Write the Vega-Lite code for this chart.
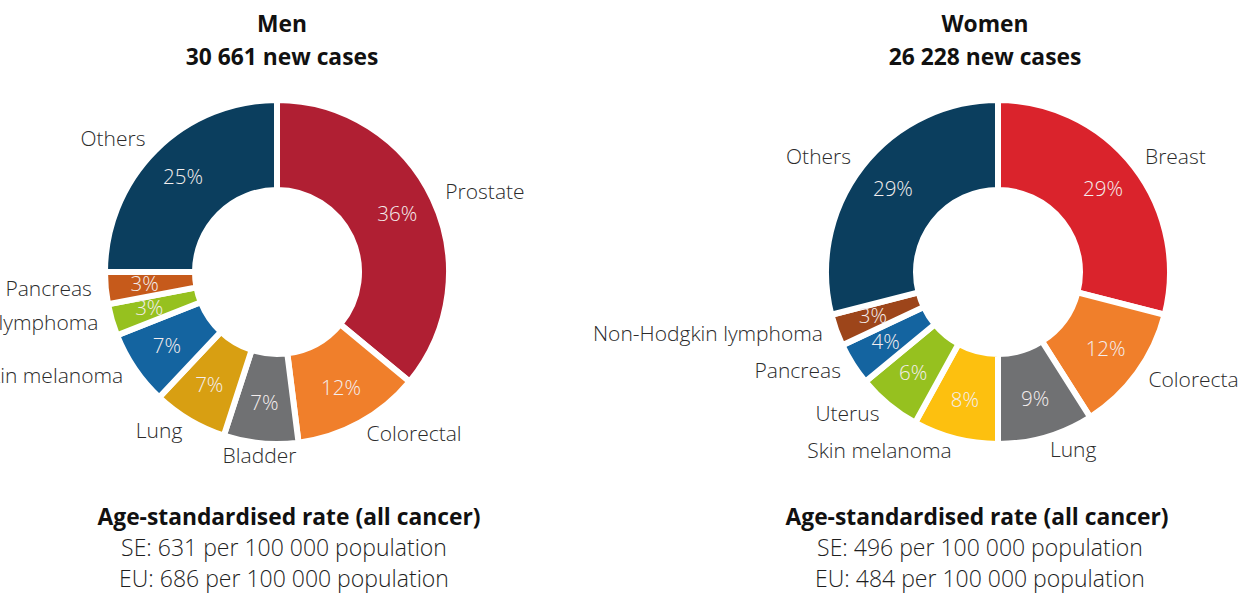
{
  "$schema": "https://vega.github.io/schema/vega-lite/v6.json",
  "autosize": {"type": "none"},
  "padding": {"left": 47, "top": 102, "right": 1192, "bottom": 492},
  "background": "white",
  "config": {
    "view": {"stroke": null},
    "font": "Open Sans",
    "text": {"font": "Open Sans"},
    "title": {"font": "Open Sans", "color": "#111111", "fontWeight": "bold", "anchor": "middle", "frame": "group"}
  },
  "datasets": {
    "men": [
      {"cancer": "Prostate", "share": 0.36, "rank": 1},
      {"cancer": "Colorectal", "share": 0.12, "rank": 2},
      {"cancer": "Bladder", "share": 0.07, "rank": 3},
      {"cancer": "Lung", "share": 0.07, "rank": 4},
      {"cancer": "Skin melanoma", "share": 0.07, "rank": 5},
      {"cancer": "Non-Hodgkin lymphoma", "share": 0.03, "rank": 6},
      {"cancer": "Pancreas", "share": 0.03, "rank": 7},
      {"cancer": "Others", "share": 0.25, "rank": 8}
    ],
    "women": [
      {"cancer": "Breast", "share": 0.29, "rank": 1},
      {"cancer": "Colorectal", "share": 0.12, "rank": 2},
      {"cancer": "Lung", "share": 0.09, "rank": 3},
      {"cancer": "Skin melanoma", "share": 0.08, "rank": 4},
      {"cancer": "Uterus", "share": 0.06, "rank": 5},
      {"cancer": "Pancreas", "share": 0.04, "rank": 6},
      {"cancer": "Non-Hodgkin lymphoma", "share": 0.03, "rank": 7},
      {"cancer": "Others", "share": 0.29, "rank": 8}
    ],
    "men_rate": [
      {"line": "SE: 631 per 100 000 population"},
      {"line": "EU: 686 per 100 000 population"}
    ],
    "women_rate": [
      {"line": "SE: 496 per 100 000 population"},
      {"line": "EU: 484 per 100 000 population"}
    ]
  },
  "columns": 2,
  "bounds": "flush",
  "spacing": {"column": 261, "row": 90},
  "resolve": {"scale": {"color": "independent", "theta": "independent"}},
  "concat": [
    {
      "width": 460,
      "height": 340,
      "data": {"name": "men"},
      "title": {"text": ["Men", "30 661 new cases"], "fontSize": 22.8, "lineHeight": 33, "offset": 18, "dx": 5},
      "encoding": {
        "theta": {"field": "share", "type": "quantitative", "stack": true, "scale": {"domain": [0, 1]}},
        "order": {"field": "rank", "type": "quantitative"}
      },
      "layer": [
        {
          "mark": {"type": "arc", "innerRadius": 82, "outerRadius": 172, "stroke": "white", "strokeWidth": 6},
          "encoding": {
            "color": {
              "field": "cancer", "type": "nominal", "legend": null,
              "scale": {
                "domain": ["Prostate", "Colorectal", "Bladder", "Lung", "Skin melanoma", "Non-Hodgkin lymphoma", "Pancreas", "Others"],
                "range": ["#B01F33", "#F07F2B", "#707173", "#D89F12", "#1464A0", "#96C11F", "#C65A1B", "#0B3E5E"]
              }
            }
          }
        },
        {
          "mark": {"type": "text", "radius": 133, "fontSize": 20.5, "fontWeight": 300, "color": "#F4EEEE", "baseline": "middle"},
          "encoding": {"text": {"field": "share", "type": "quantitative", "format": ".0%"}}
        },
        {
          "mark": {"type": "text", "radius": 186, "fontSize": 21, "fontWeight": 300, "color": "#2b2b2b", "align": "left", "baseline": "middle"},
          "encoding": {"text": {"condition": {"test": "indexof(['Prostate','Colorectal'], datum.cancer) >= 0", "field": "cancer", "type": "nominal"}, "value": ""}}
        },
        {
          "mark": {"type": "text", "radius": 186, "fontSize": 21, "fontWeight": 300, "color": "#2b2b2b", "align": "center", "baseline": "middle"},
          "encoding": {"text": {"condition": {"test": "datum.cancer === 'Bladder'", "field": "cancer", "type": "nominal"}, "value": ""}}
        },
        {
          "mark": {"type": "text", "radius": 186, "fontSize": 21, "fontWeight": 300, "color": "#2b2b2b", "align": "right", "baseline": "middle"},
          "encoding": {"text": {"condition": {"test": "indexof(['Lung','Skin melanoma','Non-Hodgkin lymphoma','Pancreas','Others'], datum.cancer) >= 0", "field": "cancer", "type": "nominal"}, "value": ""}}
        }
      ]
    },
    {
      "width": 460,
      "height": 340,
      "data": {"name": "women"},
      "title": {"text": ["Women", "26 228 new cases"], "fontSize": 22.8, "lineHeight": 33, "offset": 18, "dx": -13},
      "encoding": {
        "theta": {"field": "share", "type": "quantitative", "stack": true, "scale": {"domain": [0, 1]}},
        "order": {"field": "rank", "type": "quantitative"}
      },
      "layer": [
        {
          "mark": {"type": "arc", "innerRadius": 82, "outerRadius": 172, "stroke": "white", "strokeWidth": 6},
          "encoding": {
            "color": {
              "field": "cancer", "type": "nominal", "legend": null,
              "scale": {
                "domain": ["Breast", "Colorectal", "Lung", "Skin melanoma", "Uterus", "Pancreas", "Non-Hodgkin lymphoma", "Others"],
                "range": ["#DA232C", "#F07F2B", "#707173", "#FDC00F", "#96C11F", "#1464A0", "#9D451A", "#0B3E5E"]
              }
            }
          }
        },
        {
          "mark": {"type": "text", "radius": 133, "fontSize": 20.5, "fontWeight": 300, "color": "#F4EEEE", "baseline": "middle"},
          "encoding": {"text": {"field": "share", "type": "quantitative", "format": ".0%"}}
        },
        {
          "mark": {"type": "text", "radius": 186, "fontSize": 21, "fontWeight": 300, "color": "#2b2b2b", "align": "left", "baseline": "middle"},
          "encoding": {"text": {"condition": {"test": "indexof(['Breast','Colorectal','Lung'], datum.cancer) >= 0", "field": "cancer", "type": "nominal"}, "value": ""}}
        },
        {
          "mark": {"type": "text", "radius": 186, "fontSize": 21, "fontWeight": 300, "color": "#2b2b2b", "align": "right", "baseline": "middle"},
          "encoding": {"text": {"condition": {"test": "indexof(['Skin melanoma','Uterus','Pancreas','Non-Hodgkin lymphoma','Others'], datum.cancer) >= 0", "field": "cancer", "type": "nominal"}, "value": ""}}
        }
      ]
    },
    {
      "width": 460,
      "height": 62,
      "data": {"name": "men_rate"},
      "title": {"text": "Age-standardised rate (all cancer)", "fontSize": 22.8, "offset": 2, "dx": 12},
      "mark": {"type": "text", "fontSize": 23, "fontWeight": 300, "color": "#1e1e1e", "baseline": "middle", "dx": 7, "dy": 1},
      "encoding": {
        "y": {"field": "line", "type": "nominal", "sort": null, "axis": null},
        "text": {"field": "line", "type": "nominal"}
      }
    },
    {
      "width": 460,
      "height": 62,
      "data": {"name": "women_rate"},
      "title": {"text": "Age-standardised rate (all cancer)", "fontSize": 22.8, "offset": 2, "dx": -21},
      "mark": {"type": "text", "fontSize": 23, "fontWeight": 300, "color": "#1e1e1e", "baseline": "middle", "dx": -18, "dy": 1},
      "encoding": {
        "y": {"field": "line", "type": "nominal", "sort": null, "axis": null},
        "text": {"field": "line", "type": "nominal"}
      }
    }
  ]
}
